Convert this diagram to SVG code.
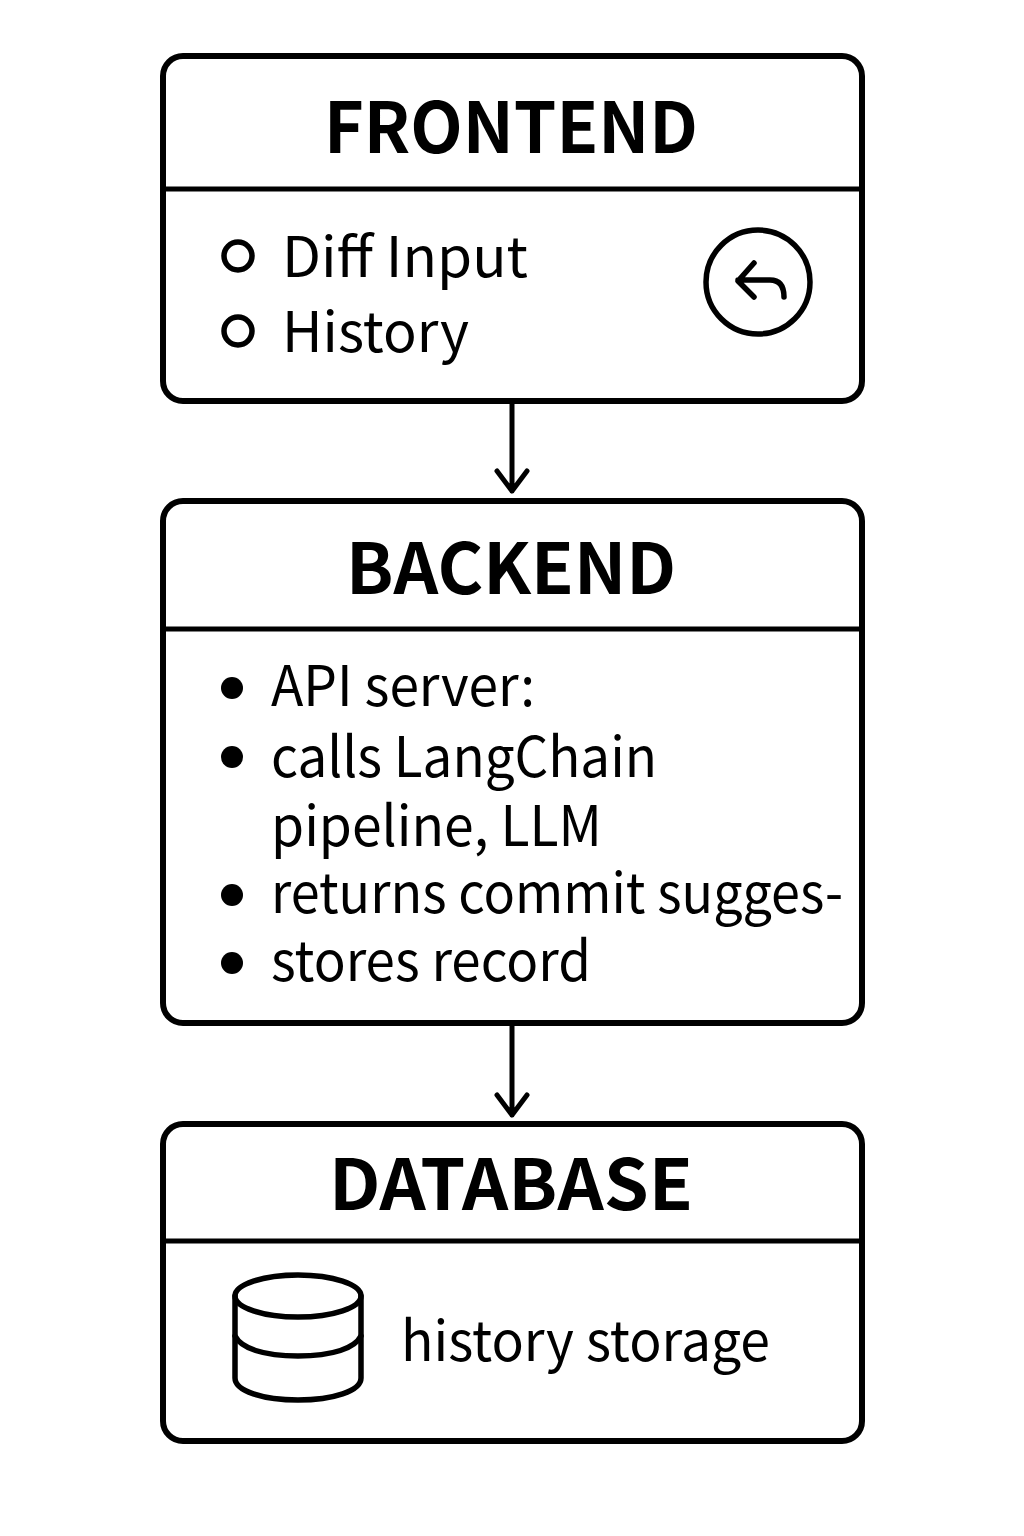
<svg xmlns="http://www.w3.org/2000/svg" width="1024" height="1536" viewBox="0 0 1024 1536">
<style>
.box{fill:#fff;stroke:#000;stroke-width:6}
.line{fill:none;stroke:#000;stroke-width:5;stroke-linecap:round;stroke-linejoin:round}
.icon{fill:none;stroke:#000;stroke-width:5.5;stroke-linecap:round;stroke-linejoin:round}
.title{font-family:"Noto Sans CJK SC","Noto Sans",sans-serif;font-weight:700;font-size:70px;text-anchor:middle;fill:#000}
.body{font-family:"Noto Sans CJK SC","Noto Sans",sans-serif;font-size:56px;fill:#000}
</style>
<rect width="1024" height="1536" fill="#fff"/>
<g id="connectors">
<path class="line" d="M512 402V491M497 471L512 491L527 471"/>
<path class="line" d="M512 1024V1115M497 1095L512 1115L527 1095"/>
</g>
<g id="frontend">
<rect class="box" x="163" y="56" width="699" height="345" rx="20"/>
<path class="line" d="M163 189H862"/>
<text class="title" x="511" y="153" textLength="374" lengthAdjust="spacingAndGlyphs">FRONTEND</text>
<circle class="icon" cx="238" cy="256" r="14"/>
<text class="body" x="282" y="277" textLength="246" lengthAdjust="spacingAndGlyphs">Diff Input</text>
<circle class="icon" cx="238" cy="331" r="14"/>
<text class="body" x="282" y="352" textLength="187" lengthAdjust="spacingAndGlyphs">History</text>
<circle class="icon" cx="758" cy="282" r="52"/>
<path class="icon" d="M784 297Q784 280 770 280H738M754 263L738 281L754 297"/>
</g>
<g id="backend">
<rect class="box" x="163" y="501" width="699" height="522" rx="20"/>
<path class="line" d="M163 629H862"/>
<text class="title" x="511" y="594" textLength="330" lengthAdjust="spacingAndGlyphs">BACKEND</text>
<circle cx="232" cy="688" r="11"/>
<text class="body" x="271" y="706" textLength="264" lengthAdjust="spacingAndGlyphs">API server:</text>
<circle cx="232" cy="757" r="11"/>
<text class="body" x="271" y="777" textLength="386" lengthAdjust="spacingAndGlyphs">calls LangChain</text>
<text class="body" x="271" y="846" textLength="331" lengthAdjust="spacingAndGlyphs">pipeline, LLM</text>
<circle cx="232" cy="895" r="11"/>
<text class="body" x="271" y="913" textLength="572" lengthAdjust="spacingAndGlyphs">returns commit sugges-</text>
<circle cx="232" cy="963" r="11"/>
<text class="body" x="271" y="981" textLength="320" lengthAdjust="spacingAndGlyphs">stores record</text>
</g>
<g id="database">
<rect class="box" x="163" y="1124" width="699" height="317" rx="20"/>
<path class="line" d="M163 1241H862"/>
<text class="title" x="511" y="1210" textLength="364" lengthAdjust="spacingAndGlyphs">DATABASE</text>
<ellipse class="icon" cx="298" cy="1296" rx="63" ry="21"/>
<path class="icon" d="M235 1296V1378C235 1391 263 1400 298 1400C333 1400 361 1391 361 1378V1296"/>
<path class="icon" d="M235 1336C241 1348 263 1356 298 1356C333 1356 355 1348 361 1336"/>
<text class="body" x="401" y="1361" textLength="369" lengthAdjust="spacingAndGlyphs">history storage</text>
</g>
</svg>
